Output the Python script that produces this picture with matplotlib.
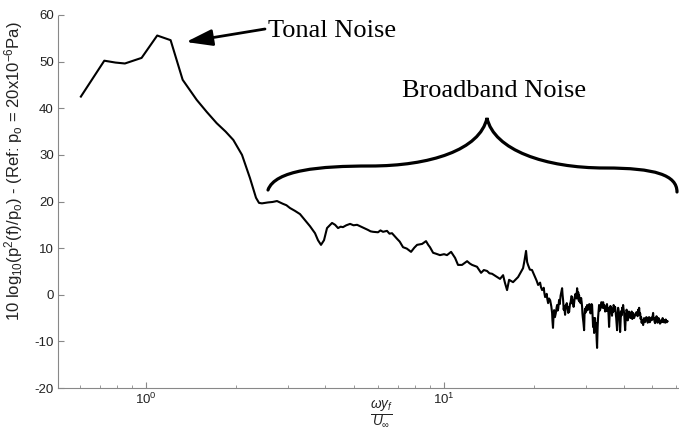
import matplotlib
matplotlib.use('Agg')
import matplotlib.pyplot as plt
from matplotlib.path import Path
from matplotlib.patches import PathPatch

plt.rcParams['font.family'] = ['Liberation Sans', 'DejaVu Sans']
plt.rcParams['mathtext.fontset'] = 'custom'
plt.rcParams['mathtext.rm'] = 'Liberation Sans'
plt.rcParams['mathtext.it'] = 'Liberation Sans:italic'
plt.rcParams['mathtext.bf'] = 'Liberation Sans:bold'
plt.rcParams['axes.unicode_minus'] = False

# tonal hump (low frequency part)
tonal_pts = [(0.605, 42.5), (0.725, 50.2), (0.79, 49.8), (0.85, 49.6), (0.967, 50.8),
             (1.091, 55.6), (1.21, 54.6), (1.328, 46.1), (1.48, 41.8), (1.60, 39.2),
             (1.727, 36.8), (1.85, 35.0), (1.964, 33.2), (2.10, 30.0), (2.234, 25.0),
             (2.34, 20.8), (2.395, 19.7), (2.45, 19.6)]

# broadband decay with small wiggles
mid_pts = [(2.567, 19.8), (2.66, 19.9), (2.752, 20.1), (2.882, 19.5), (2.96, 19.2),
           (3.042, 18.6), (3.16, 18.0), (3.287, 17.3), (3.416, 16.0), (3.551, 14.7),
           (3.691, 13.2), (3.777, 11.7), (3.866, 10.7), (3.957, 11.7), (4.05, 14.3),
           (4.21, 15.4), (4.31, 15.0), (4.41, 14.3), (4.50, 14.6), (4.58, 14.5),
           (4.70, 14.9), (4.84, 15.2), (4.97, 14.9), (5.108, 15.0), (5.306, 14.5),
           (5.43, 14.2), (5.559, 13.9), (5.67, 13.6), (5.778, 13.5), (6.005, 13.4),
           (6.12, 13.8), (6.241, 13.5), (6.437, 13.7), (6.56, 13.1), (6.69, 13.2),
           (6.955, 12.0), (7.10, 11.4), (7.285, 10.2), (7.50, 9.9), (7.75, 9.2),
           (7.95, 10.1), (8.12, 10.7), (8.44, 10.9), (8.70, 11.5), (8.85, 10.7),
           (8.97, 10.2), (9.19, 9.0), (9.40, 8.8), (9.69, 8.5), (10.0, 8.7),
           (10.23, 8.5), (10.56, 9.2), (10.89, 7.9), (11.14, 6.4), (11.49, 6.4),
           (11.95, 7.2), (12.2, 6.7), (12.42, 6.4), (12.90, 6.0), (13.31, 4.7),
           (13.6, 5.3), (13.94, 5.1), (14.2, 4.6), (14.49, 4.5), (15.06, 3.8),
           (15.41, 3.4), (15.78, 4.2), (16.0, 2.6), (16.27, 1.0), (16.53, 3.2),
           (17.04, 2.7), (17.72, 3.8), (18.41, 5.7), (18.6, 7.2), (18.84, 9.4),
           (19.0, 7.0), (19.13, 6.4), (19.4, 5.4), (19.73, 5.3)]

# noisy high frequency tail
tail_pts = [(20.2, 3.8), (20.45, 3.0), (20.68, 2.1), (21.0, 2.6), (21.15, 1.6), (21.33, 1.0),
            (21.6, 1.5), (21.7, 0.4), (21.83, -0.5), (22.1, 0.2), (22.2, -0.9), (22.34, -1.8),
            (22.5, -0.8), (22.7, -1.2), (22.9, -2.5), (23.04, -3.9), (23.1, -5.5), (23.2, -7.1),
            (23.3, -4.5), (23.4, -3.3), (23.55, -4.8), (23.7, -4.0), (23.85, -2.8), (23.95, -2.2),
            (24.05, -3.4), (24.15, -3.0), (24.25, -1.8), (24.32, -1.1), (24.45, -2.0), (24.6, -0.2),
            (24.75, 0.6), (24.89, 1.4), (24.98, 0.0), (25.08, -1.1), (25.2, -3.2), (25.3, -2.5),
            (25.4, -3.6), (25.47, -4.3), (25.6, -2.2), (25.7, -2.8), (25.8, -1.8), (25.87, -2.6),
            (26.0, -3.2), (26.1, -3.9), (26.2, -2.6), (26.27, -3.7), (26.45, -2.0), (26.6, -1.5),
            (26.75, -0.3), (26.89, -0.5), (27.0, -2.0), (27.1, -1.2), (27.2, -2.6), (27.31, -1.8),
            (27.45, -0.5), (27.6, 0.2), (27.8, -0.8), (27.95, 1.4), (28.1, -0.3), (28.2, 0.5),
            (28.3, -1.2), (28.38, -0.1), (28.5, -1.5), (28.6, -0.7), (28.7, -1.8), (28.83, -0.7),
            (28.95, -1.6), (29.05, -2.6), (29.12, -4.0), (29.2, -4.8), (29.35, -6.0), (29.5, -7.6),
            (29.6, -4.2), (29.7, -3.0), (29.85, -3.8), (29.96, -2.6), (30.1, -3.4), (30.2, -2.2),
            (30.35, -2.8), (30.5, -3.2), (30.7, -2.0), (30.9, -2.6), (31.0, -4.0), (31.1, -3.5),
            (31.25, -2.0), (31.38, -2.2), (31.5, -4.5), (31.62, -6.9), (31.75, -5.0), (31.87, -8.2),
            (32.0, -6.5), (32.1, -5.0), (32.25, -7.5), (32.36, -6.1), (32.5, -9.5), (32.61, -11.4),
            (32.75, -7.0), (32.87, -4.8), (33.0, -3.5), (33.12, -2.2), (33.3, -3.4), (33.5, -2.9),
            (33.7, -1.6), (33.9, -1.8), (34.05, -2.8), (34.17, -1.6), (34.35, -2.8), (34.5, -2.2),
            (34.7, -3.6), (34.96, -2.6), (35.1, -3.5), (35.2, -2.0), (35.35, -3.0), (35.5, -2.8),
            (35.65, -4.5), (35.78, -6.9), (35.9, -4.6), (36.0, -3.2), (36.15, -2.4), (36.34, -2.8),
            (36.5, -3.6), (36.6, -4.5), (36.75, -3.0), (36.9, -3.7), (37.05, -2.2), (37.2, -2.5),
            (37.35, -3.4), (37.48, -2.6), (37.65, -3.8), (37.8, -5.0), (37.95, -6.4), (38.06, -7.6),
            (38.2, -4.5), (38.36, -2.8), (38.55, -3.5), (38.7, -4.2), (38.85, -6.5), (38.96, -8.0),
            (39.15, -5.0), (39.3, -3.5), (39.45, -4.4), (39.57, -2.8), (39.7, -3.6), (39.87, -2.2),
            (40.0, -3.0), (40.2, -4.0), (40.35, -5.8), (40.5, -7.6), (40.65, -5.6), (40.8, -4.5),
            (40.95, -3.2), (41.13, -3.7), (41.3, -5.5), (41.45, -4.8), (41.7, -3.6), (41.9, -4.0),
            (42.15, -5.0), (42.42, -4.3), (42.6, -3.6), (42.8, -5.2), (42.95, -4.2), (43.08, -3.9),
            (43.4, -5.0), (43.7, -4.5), (44.1, -3.8), (44.44, -3.7), (44.6, -4.6), (44.8, -3.2),
            (44.95, -3.9), (45.13, -2.8), (45.3, -4.3), (45.5, -4.0), (45.65, -5.2), (45.83, -4.8),
            (46.0, -6.0), (46.2, -5.5), (46.4, -6.0), (46.55, -6.5), (46.7, -5.4), (46.9, -5.0),
            (47.15, -5.9), (47.4, -5.6), (47.7, -4.8), (48.0, -5.0), (48.2, -6.0), (48.4, -5.8),
            (48.55, -4.9), (48.75, -4.8), (49.0, -5.9), (49.3, -5.5), (49.6, -4.9), (49.89, -5.4),
            (50.1, -4.6), (50.27, -3.9), (50.45, -5.2), (50.6, -5.0), (50.85, -5.8), (51.05, -6.1),
            (51.2, -5.0), (51.4, -5.2), (51.6, -4.6), (51.85, -5.0), (52.0, -6.0), (52.2, -5.8),
            (52.45, -5.0), (52.66, -5.4), (53.0, -6.2), (53.3, -6.0), (53.6, -5.4), (53.89, -5.8),
            (54.1, -5.0), (54.3, -5.3), (54.5, -5.9), (54.73, -5.4), (55.0, -5.8), (55.2, -6.0),
            (55.4, -5.3), (55.6, -5.6), (55.9, -5.9), (56.2, -5.7)]

pts = tonal_pts + mid_pts + tail_pts
freq = [p[0] for p in pts]
spl = [p[1] for p in pts]

W, H = 679, 436
fig = plt.figure(figsize=(W / 100, H / 100), dpi=100)
ax = fig.add_axes([58 / W, 48 / H, 621 / W, 373 / H])

ax.semilogx(freq, spl, color='black', lw=1.5)
ax.set_xlim(0.507, 61.4)
ax.set_ylim(-20, 60)
ax.set_yticks(range(-20, 61, 10))

for s in ['top', 'right']:
    ax.spines[s].set_visible(False)
for s in ['left', 'bottom']:
    ax.spines[s].set_color('#888888')
    ax.spines[s].set_linestyle((0, (1, 1)))
    ax.spines[s].set_linewidth(0.8)
ax.tick_params(which='both', direction='in', colors='#888888', labelcolor='#222222',
               labelsize=9.5, pad=3)
ax.tick_params(which='major', length=4)
ax.tick_params(which='minor', length=2.5)

ax.set_ylabel(r'10 log$_{10}$(p$^2$(f)/p$_\mathrm{o}$) - (Ref: p$_\mathrm{o}$ = 20x10$^{-6}$Pa)',
              fontsize=12, color='#222222')
ax.yaxis.set_label_coords(-33 / 621, (388 - 171) / 373)
ax.set_xlabel(r'$\frac{\omega y_f}{U_\infty}$', fontsize=14, color='#222222')
ax.xaxis.set_label_coords((381 - 58) / 621, -11 / 373)
ax.xaxis.label.set_va('top')


def px(x, y):
    return (x / W, 1 - y / H)


# annotations
fig.text(*px(268, 37), 'Tonal Noise', family='Liberation Serif', fontsize=19, va='baseline')
fig.text(*px(402, 97), 'Broadband Noise', family='Liberation Serif', fontsize=19, va='baseline')
ax.annotate('', xy=px(186, 42), xytext=px(265, 29),
            xycoords='figure fraction', textcoords='figure fraction',
            arrowprops=dict(arrowstyle='-|>,head_length=0.8,head_width=0.25',
                            mutation_scale=20, color='black', lw=2, shrinkA=0, shrinkB=0))

brace = [(268, 190), (275, 170), (320, 166), (370, 166),
         (430, 166), (480, 150), (487, 118),
         (494, 150), (545, 168), (605, 168),
         (655, 168), (677, 175), (677, 192)]
codes = [Path.MOVETO] + [Path.CURVE4] * 12
path = Path([px(x, y) for x, y in brace], codes)
fig.add_artist(PathPatch(path, transform=fig.transFigure, fill=False, lw=2.3,
                         edgecolor='black', capstyle='round'))

fig.savefig('out.png', dpi=100)
